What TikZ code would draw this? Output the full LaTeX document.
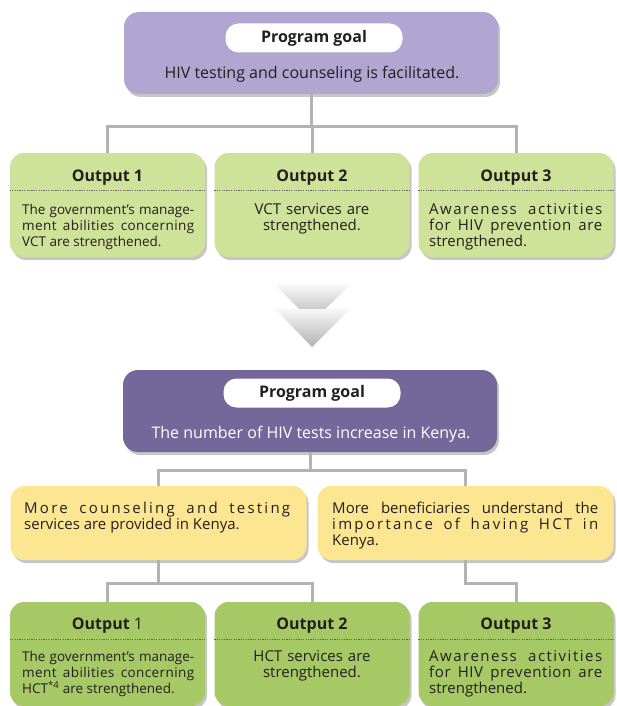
\documentclass[tikz,border=0pt]{standalone}
\usepackage{fontspec}
\setmainfont{Open Sans}
\usepackage[x11names, svgnames]{xcolor}
\usepackage{tikz}
\usetikzlibrary{shadows, calc}
\definecolor{goalLilac}{HTML}{B1A6D1}
\definecolor{goalPurple}{HTML}{74679A}
\definecolor{outPale}{HTML}{CFE29A}
\definecolor{outLeaf}{HTML}{A6C865}
\definecolor{purposeSand}{HTML}{FCE692}
\definecolor{linkGray}{HTML}{B3B3B3}
\definecolor{inkDark}{HTML}{231F20}
\newcommand{\tracked}[2]{{\addfontfeature{LetterSpace=#1}#2}}

\tikzset{
  boxshadow/.style={drop shadow={shadow xshift=2pt, shadow yshift=-3pt, opacity=0.45}},
  goalbox/.style={rounded corners=15pt, minimum width=374pt, minimum height=82pt, inner sep=0pt, boxshadow},
  pillbox/.style={fill=white, rounded corners=13pt, minimum width=177pt, minimum height=29pt, inner sep=0pt, text=inkDark, font=\bfseries\fontsize{16}{18}\selectfont},
  goaltext/.style={inner sep=0pt, anchor=base, font=\fontsize{16}{18}\selectfont},
  outbox/.style={rounded corners=14pt, minimum width=195pt, minimum height=104pt, inner sep=0pt, boxshadow},
  purposebox/.style={fill=purposeSand, rounded corners=14pt, minimum width=296pt, minimum height=74pt, inner sep=0pt, boxshadow},
  outtitle/.style={inner sep=0pt, anchor=base, text=inkDark, font=\fontsize{16}{18}\selectfont},
  bodytext/.style={inner sep=0pt, anchor=base west, text=inkDark, text width=#1, align=justify, font=\fontsize{15}{16.2}\selectfont},
  smalltext/.style={bodytext=#1, font=\fontsize{13.5}{16.2}\selectfont},
  centertext/.style={inner sep=0pt, anchor=base, text=inkDark, text width=172pt, align=center, font=\fontsize{15}{16.2}\selectfont},
  divider/.style={draw=inkDark!70, line width=0.5pt, dash pattern=on 1.2pt off 1.2pt},
  link/.style={draw=linkGray, line width=3pt, line join=miter},
  chevron/.style={top color=gray!6, bottom color=gray!60}
}

\begin{document}
\begin{tikzpicture}[x=1pt, y=-1pt, style={line cap=butt}]
  \useasboundingbox (0,0) rectangle (616,706);

  % first chart
  \node[goalbox, fill=goalLilac] (goalA) at (311,53) {};
  \node[pillbox] (pillA) at (314,38) {Program goal};
  \node[goaltext, text=inkDark] (aimA) at (312,79) {HIV testing and counseling is facilitated.};

  \node[outbox, fill=outPale] (pA) at (107.5,205) {};
  \node[outbox, fill=outPale] (pB) at (312,205) {};
  \node[outbox, fill=outPale] (pC) at (516,205) {};

  \draw[link] (goalA.south) -- ++(0,32) coordinate (hubA);
  \draw[link] (pA.north) |- (hubA) -| (pC.north);
  \draw[link] (pB.north) -- (pB.north |- hubA);

  \node[outtitle] (pAtitle) at (107.5,181) {\textbf{Output 1}};
  \node[outtitle] (pBtitle) at (312,181) {\textbf{Output 2}};
  \node[outtitle] (pCtitle) at (516,181) {\textbf{Output 3}};
  \draw[divider] ([yshift=-37pt]pA.north west) -- ([yshift=-37pt]pA.north east);
  \draw[divider] ([yshift=-37pt]pB.north west) -- ([yshift=-37pt]pB.north east);
  \draw[divider] ([yshift=-37pt]pC.north west) -- ([yshift=-37pt]pC.north east);

  \node[smalltext=172pt] (pAtext) at (22,214) {The government’s manage-\linebreak \tracked{3}{ment abilities concerning}\linebreak VCT are strengthened.};
  \node[centertext] (pBtext) at (312,214) {VCT services are\\strengthened.};
  \node[bodytext=173pt] (pCtext) at (429,214) {\tracked{10}{Awareness activities}\linebreak \tracked{4}{for HIV prevention are}\linebreak strengthened.};

  % arrow between the charts
  \shade[chevron] (275,285) -- (350,285) -- (312,322) -- cycle;
  \shade[chevron] (275,309) -- (350,309) -- (312,347) -- cycle;

  % second chart
  \node[goalbox, fill=goalPurple] (goalB) at (310,411) {};
  \node[pillbox] (pillB) at (312,393) {Program goal};
  \node[goaltext, text=white] (aimB) at (311,438) {The number of HIV tests increase in Kenya.};

  \node[purposebox] (midA) at (158.5,523) {};
  \node[purposebox] (midB) at (465.5,523) {};

  \draw[link] (goalB.south) -- ++(0,18) coordinate (hubB);
  \draw[link] (midA.north) |- (hubB) -| (midB.north);

  \node[bodytext=266pt] (midAtext) at (24,513) {\tracked{15}{More counseling and testing}\linebreak services are provided in Kenya.};
  \node[bodytext=266pt] (midBtext) at (332,513) {More beneficiaries understand the\linebreak \tracked{15}{importance of having HCT in}\linebreak Kenya.};

  \node[outbox, fill=outLeaf] (qA) at (107.5,654) {};
  \node[outbox, fill=outLeaf] (qB) at (312,654) {};
  \node[outbox, fill=outLeaf] (qC) at (516,654) {};

  \draw[link] (midA.south) -- ++(0,23) coordinate (hubC);
  \draw[link] (qA.north) |- (hubC) -| (qB.north);
  \draw[link] (midB.south) -- ++(0,23) -| (qC.north);

  \node[outtitle] (qAtitle) at (107.5,629) {\textbf{Output} 1};
  \node[outtitle] (qBtitle) at (312,629) {\textbf{Output 2}};
  \node[outtitle] (qCtitle) at (516,629) {\textbf{Output 3}};
  \draw[divider] ([yshift=-37pt]qA.north west) -- ([yshift=-37pt]qA.north east);
  \draw[divider] ([yshift=-37pt]qB.north west) -- ([yshift=-37pt]qB.north east);
  \draw[divider] ([yshift=-37pt]qC.north west) -- ([yshift=-37pt]qC.north east);

  \node[smalltext=172pt] (qAtext) at (22,661) {The government’s manage-\linebreak \tracked{3}{ment abilities concerning}\linebreak HCT\textsuperscript{*4} are strengthened.};
  \node[centertext] (qBtext) at (312,661) {HCT services are\\strengthened.};
  \node[bodytext=173pt] (qCtext) at (429,661) {\tracked{10}{Awareness activities}\linebreak \tracked{4}{for HIV prevention are}\linebreak strengthened.};
\end{tikzpicture}
\end{document}
